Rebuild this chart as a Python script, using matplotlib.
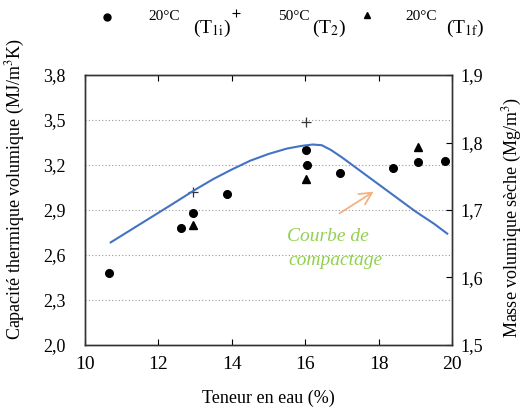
import matplotlib
matplotlib.use("Agg")
import matplotlib.pyplot as plt
from matplotlib.lines import Line2D

plt.rcParams['font.family'] = ['Liberation Serif', 'DejaVu Serif']
plt.rcParams['mathtext.fontset'] = 'stix'

# data
w_T1i = [10.66, 12.61, 12.95, 13.86, 16.02, 16.05, 16.96, 18.39, 19.06, 19.82]
c_T1i = [2.48, 2.78, 2.88, 3.01, 3.30, 3.20, 3.15, 3.18, 3.22, 3.23]
w_T2 = [12.95, 16.02]
c_T2 = [3.02, 3.49]
w_T1f = [12.95, 16.02, 19.06]
c_T1f = [2.80, 3.11, 3.32]

# compaction curve (right axis)
w_curve = [10.7, 11.5, 12.3, 13.0, 13.5, 14.0, 14.5, 15.0, 15.5, 15.9, 16.2,
           16.45, 16.7, 17.0, 17.5, 18.0, 18.5, 19.0, 19.5, 19.87]
rho_curve = [1.652, 1.679, 1.706, 1.730, 1.746, 1.760, 1.773, 1.783, 1.791,
             1.795, 1.797, 1.796, 1.789, 1.778, 1.758, 1.738, 1.718, 1.698,
             1.680, 1.665]

x_ticks = [10, 12, 14, 16, 18, 20]
y_ticks = [2.0, 2.3, 2.6, 2.9, 3.2, 3.5, 3.8]
y_labels = ['2,0', '2,3', '2,6', '2,9', '3,2', '3,5', '3,8']
y2_ticks = [1.5, 1.6, 1.7, 1.8, 1.9]
y2_labels = ['1,5', '1,6', '1,7', '1,8', '1,9']

fig = plt.figure(figsize=(5.27, 4.11), dpi=100)
ax = fig.add_axes([0.1613, 0.1606, 0.6964, 0.6569])
ax2 = ax.twinx()

ax.plot(w_T1i, c_T1i, 'o', color='black', markersize=5.5, zorder=5)
ax.plot(w_T2, c_T2, '+', color='#333333', markersize=7, mew=0.9, zorder=5)
ax.plot(w_T1f, c_T1f, '^', color='black', markersize=5.5, zorder=5)

ax2.plot(w_curve, rho_curve, color='#4472C4', lw=1.5)

ax.set_xlim(10, 20)
ax.set_ylim(2.0, 3.8)
ax2.set_ylim(1.5, 1.9)
ax.set_xticks(x_ticks)
ax.set_xticklabels([str(t) for t in x_ticks])
ax.set_yticks(y_ticks)
ax.set_yticklabels(y_labels)
ax2.set_yticks(y2_ticks)
ax2.set_yticklabels(y2_labels)

for t in y_ticks[1:-1]:
    ax.axhline(t, color='#999999', lw=0.8, ls=(0, (1, 2)), zorder=0)

ax.tick_params(axis='x', direction='in', top=True, length=4, labelsize=14, pad=8)
ax.tick_params(axis='y', direction='in', length=0, labelsize=13, pad=14)
ax2.tick_params(axis='y', direction='in', length=4, labelsize=13, pad=6)
for a in (ax, ax2):
    for s in a.spines.values():
        s.set_color('#333333')
        s.set_linewidth(1.0)

ax.set_xlabel('Teneur en eau (%)', fontsize=13, labelpad=12)
fig.text(0.030, 0.54, 'Capacité thermique volumique (MJ/m$^3$K)', rotation=90,
         ha='center', va='center', fontsize=13)
fig.text(0.972, 0.47, 'Masse volumique sèche (Mg/m$^3$)', rotation=90,
         ha='center', va='center', fontsize=13)

# annotation
ax.annotate('', xy=(17.93, 3.033), xytext=(16.87, 2.867),
            arrowprops=dict(arrowstyle='->', color='#F4B183', lw=1.3,
                            mutation_scale=22))
ax.text(16.62, 2.72, 'Courbe de', color='#92D050', fontsize=14, style='italic',
        ha='center', va='center')
ax.text(16.82, 2.565, 'compactage', color='#92D050', fontsize=14, style='italic',
        ha='center', va='center')

# legend at the top
fig.add_artist(Line2D([107 / 527], [1 - 17 / 411], marker='o', color='black',
                      markersize=5, ls='none'))
fig.add_artist(Line2D([236 / 527], [1 - 13 / 411], marker='+', color='black',
                      markersize=6, mew=0.8, ls='none'))
fig.add_artist(Line2D([367 / 527], [1 - 15 / 411], marker='^', color='black',
                      markersize=5, ls='none'))
fig.text(148 / 527, 1 - 16 / 411, '20°C', fontsize=11, va='center')
fig.text(193 / 527, 1 - 28 / 411, r'(T$_{\mathrm{1i}}$)', fontsize=14, va='center')
fig.text(278 / 527, 1 - 16 / 411, '50°C', fontsize=11, va='center')
fig.text(312 / 527, 1 - 28 / 411, r'(T$_{\mathrm{2}}$)', fontsize=14, va='center')
fig.text(405 / 527, 1 - 16 / 411, '20°C', fontsize=11, va='center')
fig.text(446 / 527, 1 - 28 / 411, r'(T$_{\mathrm{1f}}$)', fontsize=14, va='center')

fig.savefig('out.png', dpi=100)
